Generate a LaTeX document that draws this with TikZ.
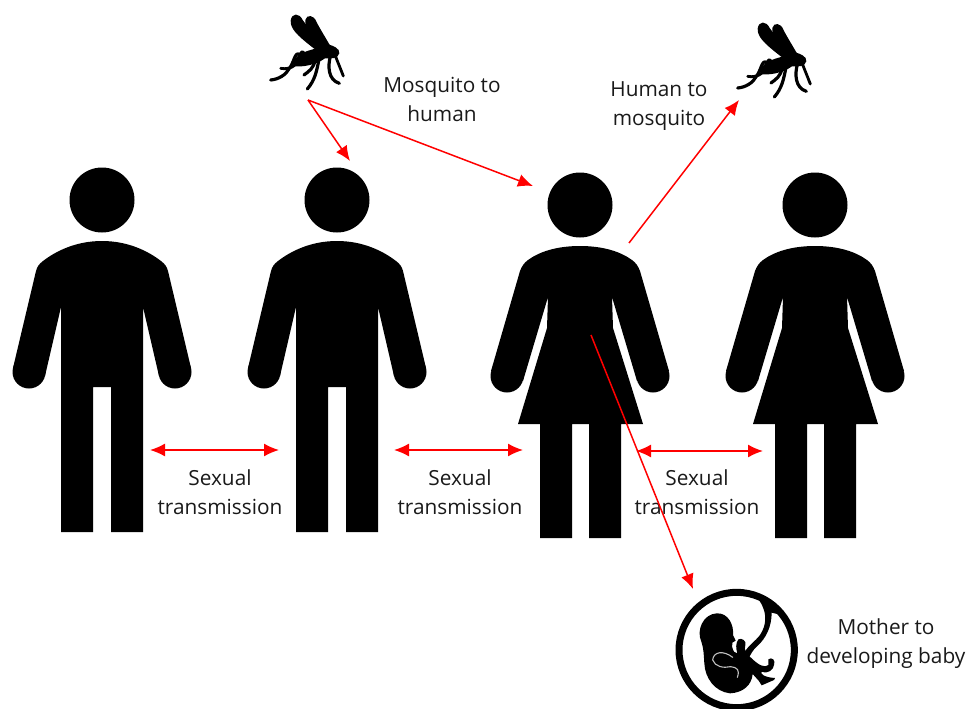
\documentclass[tikz,border=0pt]{standalone}
\usepackage{fontspec}
\setmainfont{Open Sans}
\usetikzlibrary{arrows.meta}
\tikzset{
  x=1pt,y=-1pt,
  redarrow/.style={draw=red,line width=1.5pt,-{Latex[length=15pt,width=13pt]}},
  redboth/.style={draw=red,line width=1.5pt,{Latex[length=15pt,width=13pt]}-{Latex[length=15pt,width=13pt]}},
  caption/.style={align=center,font=\fontsize{20.8}{29}\selectfont,inner sep=0pt,text=black!90},
  man/.pic={
    \fill[black] (0,-41) circle (32.5);
    \fill[black] (-73,131) circle (16.5) (73,131) circle (16.5);
    \fill[black] (0,0) .. controls (-26,0) and (-46,10) .. (-59,20) .. controls (-63,23) and (-65,26) .. (-66,30)
      -- (-89,127) -- (-57,135) -- (-41,66) -- (-41,291) -- (-9,291) -- (-9,146) -- (9,146) -- (9,291) -- (41,291) -- (41,66)
      -- (57,135) -- (89,127) -- (66,30) .. controls (65,26) and (63,23) .. (59,20) .. controls (46,10) and (26,0) .. (0,0) -- cycle;
  },
  woman/.pic={
    \fill[black] (0,-41) circle (32.5);
    \fill[black] (-73,130) circle (16.5) (73,130) circle (16.5);
    \fill[black] (0,0) .. controls (-24,0) and (-41,6) .. (-52,14) .. controls (-56,17) and (-58,20) .. (-60,25)
      -- (-89,125) -- (-57,135) -- (-32,51) -- (-33,82) -- (-62,178) -- (-40,178) -- (-40,292) -- (-8,292) -- (-8,178) -- (9,178) -- (9,292) -- (41,292) -- (41,178) -- (63,178) -- (33,82) -- (32,51)
      -- (57,135) -- (89,125) -- (60,25) .. controls (58,20) and (56,17) .. (52,14) .. controls (41,6) and (24,0) .. (0,0) -- cycle;
  },
  mosq/.pic={
    \begin{scope}[scale=1/3]
    \fill[black] (122,62) .. controls (125,38) and (148,38) .. (158,60) .. controls (180,90) and (205,120) .. (235,150) -- (212,162) .. controls (175,130) and (118,95) .. (122,62) -- cycle;
    \fill[black] (166,60) .. controls (170,42) and (192,45) .. (199,65) .. controls (212,90) and (228,115) .. (245,145) -- (222,152) .. controls (198,120) and (162,85) .. (166,60) -- cycle;
    \fill[black] (130,188) .. controls (140,150) and (200,150) .. (235,133) .. controls (250,138) and (270,145) .. (268,160) .. controls (262,178) and (245,175) .. (225,175) .. controls (200,193) and (160,203) .. (130,198) -- cycle;
    \draw[black,line width=3.2pt,line cap=round,line join=round,fill=none]
      (150,165) .. controls (135,150) and (132,190) .. (118,205) .. controls (108,225) and (85,238) .. (62,240);
    \draw[black,line width=2.8pt,line cap=round,fill=none]
      (163,160) .. controls (150,145) and (150,175) .. (135,195) .. controls (125,205) and (105,208) .. (92,205);
    \draw[black,line width=3.2pt,line cap=round,fill=none]
      (195,180) .. controls (192,205) and (175,215) .. (162,225);
    \draw[black,line width=3.2pt,line cap=round,fill=none]
      (208,172) .. controls (200,215) and (195,240) .. (172,267);
    \draw[black,line width=3.2pt,line cap=round,fill=none]
      (242,165) .. controls (232,200) and (235,240) .. (268,250);
    \draw[black,line width=2.8pt,line cap=round,fill=none]
      (255,165) -- (280,228);
    \end{scope}
  },
  fetus/.pic={
    \begin{scope}[scale=1/3]
    \draw[black,line width=7pt,fill=none] (230,240) circle (173);
    \fill[black] (280,72) .. controls (330,78) and (350,100) .. (365,135) -- (335,128) .. controls (335,170) and (318,205) .. (292,228) .. controls (276,242) and (272,255) .. (266,264) -- (252,250) .. controls (265,225) and (285,215) .. (300,195) .. controls (320,165) and (318,135) .. (310,115) .. controls (305,100) and (295,85) .. (280,72) -- cycle;
    \fill[black] (170,130) .. controls (205,128) and (222,165) .. (219,195) -- (227,212) -- (217,218) .. controls (215,225) and (216,235) .. (222,245) -- (232,250)
      .. controls (228,235) and (226,222) .. (235,208) .. controls (245,203) and (260,212) .. (256,225) .. controls (250,240) and (262,255) .. (275,265)
      .. controls (295,285) and (315,295) .. (325,285) -- (325,268) .. controls (335,260) and (348,270) .. (342,285) .. controls (340,300) and (325,312) .. (305,305) .. controls (300,310) and (310,322) .. (345,324) -- (342,330) -- (305,346) -- (296,332) -- (278,312)
      .. controls (275,345) and (250,368) .. (210,370) .. controls (165,365) and (135,325) .. (133,280) .. controls (131,255) and (132,240) .. (124,215) .. controls (108,180) and (130,132) .. (170,130) -- cycle;
    \draw[black!25,line width=1.1pt,fill=none,line cap=round] (232,322) .. controls (240,300) and (232,292) .. (212,290) .. controls (190,295) and (165,290) .. (158,270) .. controls (160,245) and (190,240) .. (218,262);
    \end{scope}
  }
}
\begin{document}
\begin{tikzpicture}
\useasboundingbox (0,0) rectangle (969,709);
\clip (0,0) rectangle (969,709);
\pic at (102,241) {man};
\pic at (337,241) {man};
\pic at (580,246) {woman};
\pic at (815,246) {woman};
\pic at (250,0) {mosq};
\pic at (717,8) {mosq};
\pic at (660,570) {fetus};
\node[caption] (mh) at (442,99) {Mosquito to\\human};
\node[caption] (hm) at (659,106) {Human to\\mosquito};
\node[caption] (s1) at (220,492) {Sexual\\transmission};
\node[caption] (s2) at (460,492) {Sexual\\transmission};
\node[caption] (s3) at (697,492) {Sexual\\transmission};
\node[caption] (mb) at (886,644) {Mother to\\developing baby};
\coordinate (bite) at (308,100);
\coordinate (head2) at (350,161);
\coordinate (head3) at (533,186);
\coordinate (hstart) at (629,243);
\coordinate (mosq2) at (739,100);
\coordinate (womb) at (591,335);
\coordinate (baby) at (693,589);
\coordinate (a1) at (150,450); \coordinate (a2) at (279,450);
\coordinate (b1) at (394,450); \coordinate (b2) at (523,450);
\coordinate (c1) at (636,451); \coordinate (c2) at (763,451);
\draw[redarrow] (bite) -- (head2);
\draw[redarrow] (bite) -- (head3);
\draw[redarrow] (hstart) -- (mosq2);
\draw[redarrow] (womb) -- (baby);
\draw[redboth] (a1) -- (a2);
\draw[redboth] (b1) -- (b2);
\draw[redboth] (c1) -- (c2);
\end{tikzpicture}
\end{document}
